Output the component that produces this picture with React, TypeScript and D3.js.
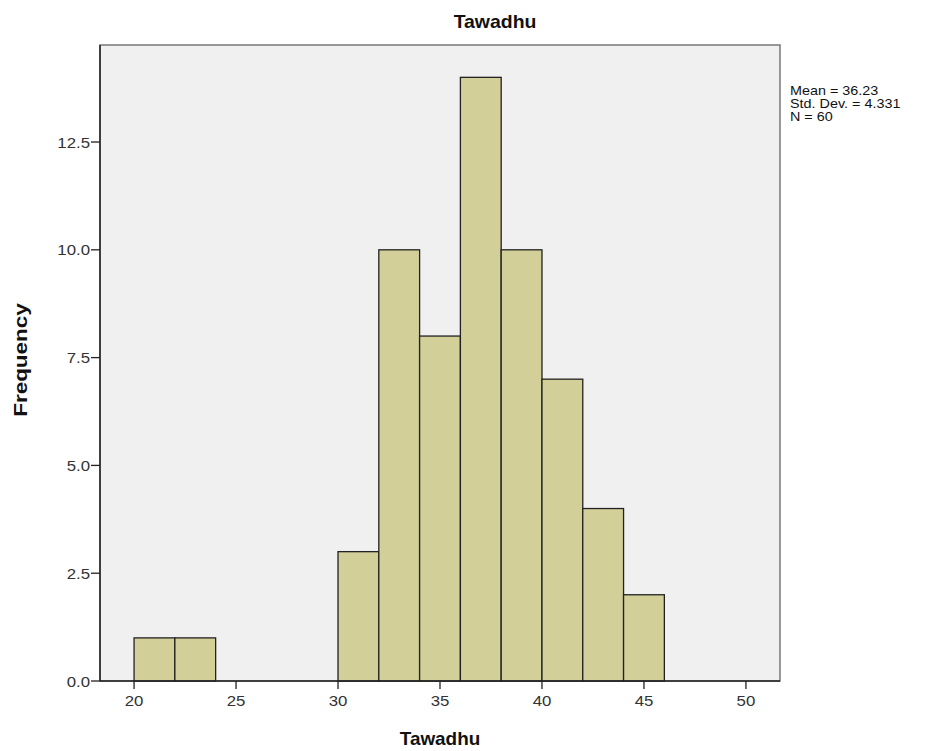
import React from "react";
import * as d3 from "d3";

const binStarts = [20, 22, 30, 32, 34, 36, 38, 40, 42, 44];
const binWidth = 2;
const counts = [1, 1, 3, 10, 8, 14, 10, 7, 4, 2];
const xTicks = [20, 25, 30, 35, 40, 45, 50];
const yTicks = [0, 2.5, 5, 7.5, 10, 12.5];
const statsLines = ["Mean = 36.23", "Std. Dev. = 4.331", "N = 60"];

export default function App() {
  const W = 931, H = 751;
  const left = 100, right = 780, top = 45, bottom = 681;
  const x = d3.scaleLinear().domain([18.33, 51.67]).range([left, right]);
  const y = d3.scaleLinear().domain([0, 14.75]).range([bottom, top]);
  const font = "'Liberation Sans', Arial, sans-serif";
  return (
    <svg width={W} height={H} style={{ position: "absolute", left: 0, top: 0 }} fontFamily={font}>
      <rect x={0} y={0} width={W} height={H} fill="#fff" />
      <rect x={left} y={top} width={right - left} height={bottom - top} fill="#f0f0f0" stroke="#777" strokeWidth={1.5} />
      {binStarts.map((b, i) => (
        <rect key={i} x={x(b)} y={y(counts[i])} width={x(b + binWidth) - x(b)} height={y(0) - y(counts[i])}
          fill="#d2cf99" stroke="#222" strokeWidth={1.3} />
      ))}
      <line x1={left} x2={left} y1={top} y2={bottom} stroke="#222" strokeWidth={1.5} />
      <line x1={left} x2={right} y1={bottom} y2={bottom} stroke="#222" strokeWidth={1.5} />
      {xTicks.map((t) => (
        <g key={t}>
          <line x1={x(t)} x2={x(t)} y1={bottom} y2={bottom + 8} stroke="#222" strokeWidth={1.3} />
          <text transform={`translate(${x(t)}, ${bottom + 25}) scale(1.12, 1)`} textAnchor="middle" fontSize={15} fill="#333">{t}</text>
        </g>
      ))}
      {yTicks.map((t) => (
        <g key={t}>
          <line x1={left - 9} x2={left} y1={y(t)} y2={y(t)} stroke="#222" strokeWidth={1.3} />
          <text transform={`translate(${left - 10}, ${y(t) + 5.5}) scale(1.12, 1)`} textAnchor="end" fontSize={15} fill="#333">{t.toFixed(1)}</text>
        </g>
      ))}
      <text transform="translate(495, 28) scale(1.08, 1)" textAnchor="middle" fontSize={18} fontWeight="bold" fill="#111">Tawadhu</text>
      <text transform="translate(440, 745) scale(1.05, 1)" textAnchor="middle" fontSize={18} fontWeight="bold" fill="#111">Tawadhu</text>
      <text transform={`translate(27, 360) rotate(-90) scale(1.25, 1)`} textAnchor="middle" fontSize={18} fontWeight="bold" fill="#111">Frequency</text>
      {statsLines.map((s, i) => (
        <text key={i} transform={`translate(790, ${95 + i * 13}) scale(1.15, 1)`} fontSize={12.5} fill="#111">{s}</text>
      ))}
    </svg>
  );
}
